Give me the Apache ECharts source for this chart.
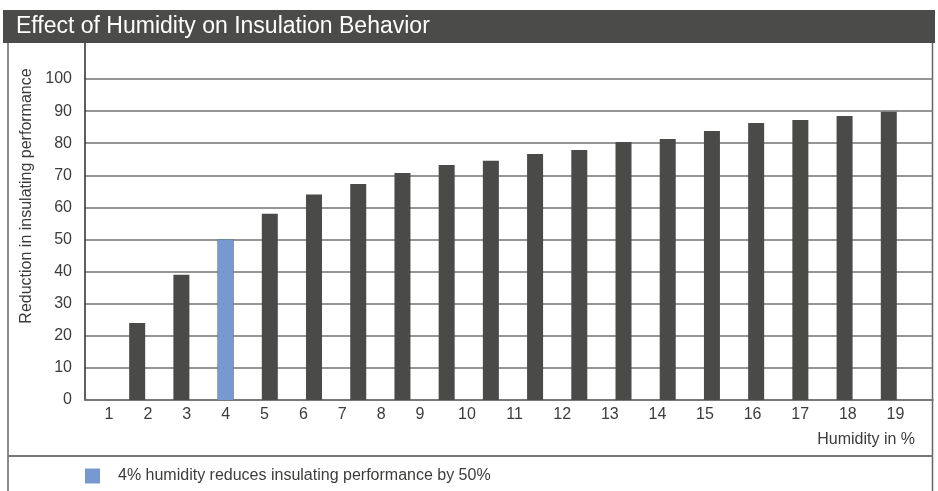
<!DOCTYPE html>
<html>
<head>
<meta charset="utf-8">
<script src="https://cdn.jsdelivr.net/npm/echarts@6/dist/echarts.min.js"></script>
<style>
html,body{margin:0;padding:0;background:#fff;}
#chart{width:938px;height:491px;}
</style>
</head>
<body>
<div id="chart"></div>
<script>
// ---- data ----
const humidity = [1,2,3,4,5,6,7,8,9,10,11,12,13,14,15,16,17,18,19];
const reduction = [0,24,39,50,58,64,67.3,70.7,73.2,74.5,76.6,77.9,80.4,81.3,83.8,86.3,87.2,88.5,89.8];
const tickLabels = ['1','2','3','4','5','6','7','8','9','10','11','12','13','14','15','16','17','18','19'];
const highlightHumidity = 4;
const titleText = 'Effect of Humidity on Insulation Behavior';
const yTitle = 'Reduction in insulating performance';
const xTitle = 'Humidity in %';
const legendText = '4% humidity reduces insulating performance by 50%';

// ---- chart ----
const FONT = 'Liberation Sans, Arial, Helvetica, sans-serif';
const TXT = '#3c3c3b';
const DARK = '#4a4a49';
const BLUE = '#7799cf';
const GRID = '#727272';
const FS = 16;

const mainData = humidity.map((h, i) => [h, reduction[i]]);
const hiData = humidity.map((h, i) => [h, reduction[i]]).filter(d => d[0] === highlightHumidity);
const labelsA = tickLabels.filter(t => t.length === 1);
const labelsB = tickLabels.filter(t => t.length > 1);

const chart = echarts.init(document.getElementById('chart'), null, {renderer: 'canvas'});
const hiddenY = {show: false, min: 0, max: 100};
const labelAxis = (gi, data) => ({
  type: 'category', gridIndex: gi, data: data, boundaryGap: true,
  axisLine: {show: false}, axisTick: {show: false}, splitLine: {show: false},
  axisLabel: {fontSize: FS, color: TXT, fontFamily: FONT, margin: 7, interval: 0}
});

chart.setOption({
  animation: false,
  backgroundColor: '#ffffff',
  textStyle: {fontFamily: FONT},
  title: {
    text: titleText, left: 11, top: 10,
    textStyle: {color: '#ffffff', fontSize: 23, fontWeight: 'normal', fontFamily: FONT}
  },
  legend: {
    left: 85, top: 468, padding: 0, itemWidth: 15, itemHeight: 15, icon: 'rect',
    data: [legendText],
    textStyle: {fontSize: FS, color: TXT, fontFamily: FONT, padding: [0, 0, 0, 13]}
  },
  grid: [
    {left: 85, right: 5, top: 79, bottom: 91},
    {left: 89.5, width: 350, top: 79, bottom: 91},
    {left: 443.2, width: 476, top: 79, bottom: 91}
  ],
  xAxis: [
    {
      type: 'value', gridIndex: 0, min: 0.82, max: 20,
      axisLine: {show: true, onZero: false, lineStyle: {color: '#6f6f6f', width: 1.5}},
      axisTick: {show: false}, axisLabel: {show: false}, splitLine: {show: false}
    },
    labelAxis(1, labelsA),
    labelAxis(2, labelsB)
  ],
  yAxis: [
    {
      type: 'value', gridIndex: 0, min: 0, max: 100, interval: 10,
      axisLine: {show: true, lineStyle: {color: '#2a2a2a', width: 1.5}},
      axisTick: {show: false},
      axisLabel: {fontSize: FS, color: TXT, fontFamily: FONT, margin: 13},
      splitLine: {show: true, lineStyle: {color: GRID, width: 1.6}}
    },
    Object.assign({gridIndex: 1, type: 'value'}, hiddenY),
    Object.assign({gridIndex: 2, type: 'value'}, hiddenY)
  ],
  series: [
    {
      name: 'Reduction', type: 'bar', xAxisIndex: 0, yAxisIndex: 0,
      data: mainData, barWidth: 16, barGap: '-100%',
      itemStyle: {color: DARK}
    },
    {
      name: legendText, type: 'bar', xAxisIndex: 0, yAxisIndex: 0,
      data: hiData, barWidth: 16, barGap: '-100%',
      itemStyle: {color: BLUE}, z: 3
    }
  ],
  graphic: [
    {type: 'rect', z: -1, shape: {x: 3, y: 10, width: 932, height: 33}, style: {fill: '#4b4b4a'}},
    {type: 'line', shape: {x1: 8, y1: 43, x2: 8, y2: 491}, style: {stroke: '#666666', lineWidth: 1.5}},
    {type: 'line', shape: {x1: 932.5, y1: 43, x2: 932.5, y2: 491}, style: {stroke: '#666666', lineWidth: 1.5}},
    {type: 'line', shape: {x1: 8, y1: 456, x2: 932.5, y2: 456}, style: {stroke: '#777777', lineWidth: 2}},
    {type: 'line', shape: {x1: 85, y1: 43, x2: 85, y2: 79}, style: {stroke: '#2a2a2a', lineWidth: 1.5}},
    {type: 'text', x: 27, y: 196, rotation: Math.PI / 2,
     style: {text: yTitle, fill: TXT, font: FS + 'px ' + FONT, textAlign: 'center', textVerticalAlign: 'middle'}},
    {type: 'text', x: 915, y: 440,
     style: {text: xTitle, fill: TXT, font: FS + 'px ' + FONT, textAlign: 'right', textVerticalAlign: 'middle'}}
  ]
});
</script>
</body>
</html>
